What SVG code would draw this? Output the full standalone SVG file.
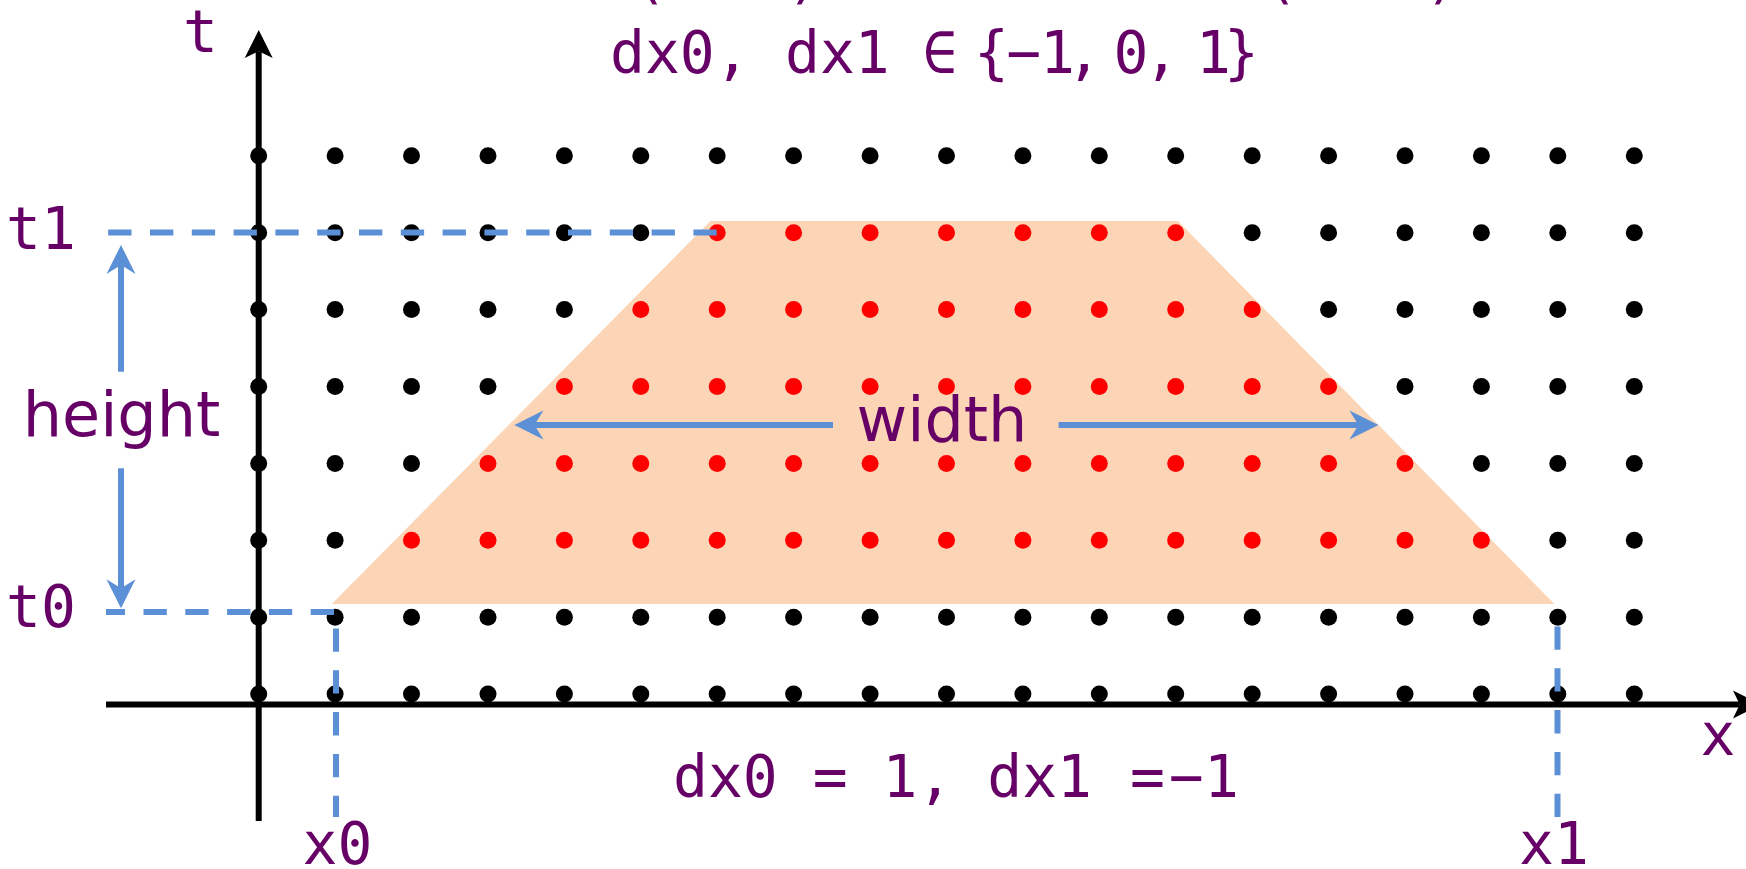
<svg xmlns="http://www.w3.org/2000/svg" width="1746" height="869" viewBox="0 0 1746 869">
<style>
.lbl{font-family:"DejaVu Sans Mono","Liberation Mono",monospace;font-size:58px;fill:#660066}
.word{font-family:"DejaVu Sans","Liberation Sans",sans-serif;font-size:62px;fill:#660066}
.k{fill:#000}
.r{fill:#ff0000}
.axis{stroke:#000;stroke-width:6;fill:none}
.dash{stroke:#5b8fd6;stroke-width:6;fill:none;stroke-dasharray:23.3 18.5}
.barrow{stroke:#5b8fd6;stroke-width:6;fill:none;marker-end:url(#bhead)}
</style>
<defs>
<marker id="khead" markerUnits="userSpaceOnUse" markerWidth="30" markerHeight="30" viewBox="0 -15 29 30" refX="6.7" refY="0" orient="auto">
<path d="M0,-14 L28,0 L0,14 L6.7,0 Z" fill="#000"/>
</marker>
<marker id="bhead" markerUnits="userSpaceOnUse" markerWidth="31" markerHeight="31" viewBox="0 -15.5 30 31" refX="9" refY="0" orient="auto">
<path d="M0,-14.5 L29,0 L0,14.5 L9,0 Z" fill="#5b8fd6"/>
</marker>
</defs>
<rect width="1746" height="869" fill="#fff"/>
<g id="region">
<polygon points="710.4,221 1178,221 1554.4,604 331.8,604" fill="#fbd5b5"/>
</g>
<g id="axes">
<line class="axis" x1="258.7" y1="821" x2="258.7" y2="51.3" marker-end="url(#khead)"/>
<line class="axis" x1="106" y1="704.5" x2="1739.7" y2="704.5" marker-end="url(#khead)"/>
</g>
<g id="dots">
<g class="k">
<circle cx="258.7" cy="155.8" r="8.5"/><circle cx="335.1" cy="155.8" r="8.5"/><circle cx="411.5" cy="155.8" r="8.5"/><circle cx="488" cy="155.8" r="8.5"/><circle cx="564.4" cy="155.8" r="8.5"/><circle cx="640.8" cy="155.8" r="8.5"/><circle cx="717.2" cy="155.8" r="8.5"/><circle cx="793.6" cy="155.8" r="8.5"/><circle cx="870.1" cy="155.8" r="8.5"/><circle cx="946.5" cy="155.8" r="8.5"/><circle cx="1022.9" cy="155.8" r="8.5"/><circle cx="1099.3" cy="155.8" r="8.5"/><circle cx="1175.7" cy="155.8" r="8.5"/><circle cx="1252.2" cy="155.8" r="8.5"/><circle cx="1328.6" cy="155.8" r="8.5"/><circle cx="1405" cy="155.8" r="8.5"/><circle cx="1481.4" cy="155.8" r="8.5"/><circle cx="1557.8" cy="155.8" r="8.5"/><circle cx="1634.3" cy="155.8" r="8.5"/>
<circle cx="258.7" cy="232.7" r="8.5"/><circle cx="335.1" cy="232.7" r="8.5"/><circle cx="411.5" cy="232.7" r="8.5"/><circle cx="488" cy="232.7" r="8.5"/><circle cx="564.4" cy="232.7" r="8.5"/><circle cx="640.8" cy="232.7" r="8.5"/><circle cx="1252.2" cy="232.7" r="8.5"/><circle cx="1328.6" cy="232.7" r="8.5"/><circle cx="1405" cy="232.7" r="8.5"/><circle cx="1481.4" cy="232.7" r="8.5"/><circle cx="1557.8" cy="232.7" r="8.5"/><circle cx="1634.3" cy="232.7" r="8.5"/>
<circle cx="258.7" cy="309.6" r="8.5"/><circle cx="335.1" cy="309.6" r="8.5"/><circle cx="411.5" cy="309.6" r="8.5"/><circle cx="488" cy="309.6" r="8.5"/><circle cx="564.4" cy="309.6" r="8.5"/><circle cx="1328.6" cy="309.6" r="8.5"/><circle cx="1405" cy="309.6" r="8.5"/><circle cx="1481.4" cy="309.6" r="8.5"/><circle cx="1557.8" cy="309.6" r="8.5"/><circle cx="1634.3" cy="309.6" r="8.5"/>
<circle cx="258.7" cy="386.5" r="8.5"/><circle cx="335.1" cy="386.5" r="8.5"/><circle cx="411.5" cy="386.5" r="8.5"/><circle cx="488" cy="386.5" r="8.5"/><circle cx="1405" cy="386.5" r="8.5"/><circle cx="1481.4" cy="386.5" r="8.5"/><circle cx="1557.8" cy="386.5" r="8.5"/><circle cx="1634.3" cy="386.5" r="8.5"/>
<circle cx="258.7" cy="463.4" r="8.5"/><circle cx="335.1" cy="463.4" r="8.5"/><circle cx="411.5" cy="463.4" r="8.5"/><circle cx="1481.4" cy="463.4" r="8.5"/><circle cx="1557.8" cy="463.4" r="8.5"/><circle cx="1634.3" cy="463.4" r="8.5"/>
<circle cx="258.7" cy="540.3" r="8.5"/><circle cx="335.1" cy="540.3" r="8.5"/><circle cx="1557.8" cy="540.3" r="8.5"/><circle cx="1634.3" cy="540.3" r="8.5"/>
<circle cx="258.7" cy="617.2" r="8.5"/><circle cx="335.1" cy="617.2" r="8.5"/><circle cx="411.5" cy="617.2" r="8.5"/><circle cx="488" cy="617.2" r="8.5"/><circle cx="564.4" cy="617.2" r="8.5"/><circle cx="640.8" cy="617.2" r="8.5"/><circle cx="717.2" cy="617.2" r="8.5"/><circle cx="793.6" cy="617.2" r="8.5"/><circle cx="870.1" cy="617.2" r="8.5"/><circle cx="946.5" cy="617.2" r="8.5"/><circle cx="1022.9" cy="617.2" r="8.5"/><circle cx="1099.3" cy="617.2" r="8.5"/><circle cx="1175.7" cy="617.2" r="8.5"/><circle cx="1252.2" cy="617.2" r="8.5"/><circle cx="1328.6" cy="617.2" r="8.5"/><circle cx="1405" cy="617.2" r="8.5"/><circle cx="1481.4" cy="617.2" r="8.5"/><circle cx="1557.8" cy="617.2" r="8.5"/><circle cx="1634.3" cy="617.2" r="8.5"/>
<circle cx="258.7" cy="694.1" r="8.5"/><circle cx="335.1" cy="694.1" r="8.5"/><circle cx="411.5" cy="694.1" r="8.5"/><circle cx="488" cy="694.1" r="8.5"/><circle cx="564.4" cy="694.1" r="8.5"/><circle cx="640.8" cy="694.1" r="8.5"/><circle cx="717.2" cy="694.1" r="8.5"/><circle cx="793.6" cy="694.1" r="8.5"/><circle cx="870.1" cy="694.1" r="8.5"/><circle cx="946.5" cy="694.1" r="8.5"/><circle cx="1022.9" cy="694.1" r="8.5"/><circle cx="1099.3" cy="694.1" r="8.5"/><circle cx="1175.7" cy="694.1" r="8.5"/><circle cx="1252.2" cy="694.1" r="8.5"/><circle cx="1328.6" cy="694.1" r="8.5"/><circle cx="1405" cy="694.1" r="8.5"/><circle cx="1481.4" cy="694.1" r="8.5"/><circle cx="1557.8" cy="694.1" r="8.5"/><circle cx="1634.3" cy="694.1" r="8.5"/>
</g>
<g class="r">
<circle cx="717.2" cy="232.7" r="8.5"/><circle cx="793.6" cy="232.7" r="8.5"/><circle cx="870.1" cy="232.7" r="8.5"/><circle cx="946.5" cy="232.7" r="8.5"/><circle cx="1022.9" cy="232.7" r="8.5"/><circle cx="1099.3" cy="232.7" r="8.5"/><circle cx="1175.7" cy="232.7" r="8.5"/>
<circle cx="640.8" cy="309.6" r="8.5"/><circle cx="717.2" cy="309.6" r="8.5"/><circle cx="793.6" cy="309.6" r="8.5"/><circle cx="870.1" cy="309.6" r="8.5"/><circle cx="946.5" cy="309.6" r="8.5"/><circle cx="1022.9" cy="309.6" r="8.5"/><circle cx="1099.3" cy="309.6" r="8.5"/><circle cx="1175.7" cy="309.6" r="8.5"/><circle cx="1252.2" cy="309.6" r="8.5"/>
<circle cx="564.4" cy="386.5" r="8.5"/><circle cx="640.8" cy="386.5" r="8.5"/><circle cx="717.2" cy="386.5" r="8.5"/><circle cx="793.6" cy="386.5" r="8.5"/><circle cx="870.1" cy="386.5" r="8.5"/><circle cx="946.5" cy="386.5" r="8.5"/><circle cx="1022.9" cy="386.5" r="8.5"/><circle cx="1099.3" cy="386.5" r="8.5"/><circle cx="1175.7" cy="386.5" r="8.5"/><circle cx="1252.2" cy="386.5" r="8.5"/><circle cx="1328.6" cy="386.5" r="8.5"/>
<circle cx="488" cy="463.4" r="8.5"/><circle cx="564.4" cy="463.4" r="8.5"/><circle cx="640.8" cy="463.4" r="8.5"/><circle cx="717.2" cy="463.4" r="8.5"/><circle cx="793.6" cy="463.4" r="8.5"/><circle cx="870.1" cy="463.4" r="8.5"/><circle cx="946.5" cy="463.4" r="8.5"/><circle cx="1022.9" cy="463.4" r="8.5"/><circle cx="1099.3" cy="463.4" r="8.5"/><circle cx="1175.7" cy="463.4" r="8.5"/><circle cx="1252.2" cy="463.4" r="8.5"/><circle cx="1328.6" cy="463.4" r="8.5"/><circle cx="1405" cy="463.4" r="8.5"/>
<circle cx="411.5" cy="540.3" r="8.5"/><circle cx="488" cy="540.3" r="8.5"/><circle cx="564.4" cy="540.3" r="8.5"/><circle cx="640.8" cy="540.3" r="8.5"/><circle cx="717.2" cy="540.3" r="8.5"/><circle cx="793.6" cy="540.3" r="8.5"/><circle cx="870.1" cy="540.3" r="8.5"/><circle cx="946.5" cy="540.3" r="8.5"/><circle cx="1022.9" cy="540.3" r="8.5"/><circle cx="1099.3" cy="540.3" r="8.5"/><circle cx="1175.7" cy="540.3" r="8.5"/><circle cx="1252.2" cy="540.3" r="8.5"/><circle cx="1328.6" cy="540.3" r="8.5"/><circle cx="1405" cy="540.3" r="8.5"/><circle cx="1481.4" cy="540.3" r="8.5"/>
</g>
</g>
<g id="connectors">
<path class="dash" d="M716.7,232.5 H106"/>
<path class="dash" d="M106,612 H336 V817" stroke-dashoffset="4.3"/>
<path class="dash" d="M1557.5,817 V626"/>
<line class="barrow" x1="121" y1="371.7" x2="121" y2="265"/>
<line class="barrow" x1="121" y1="468.3" x2="121" y2="588.3"/>
<line class="barrow" x1="833" y1="425" x2="534.4" y2="425"/>
<line class="barrow" x1="1058.6" y1="425" x2="1358.4" y2="425"/>
</g>
<g id="labels">
<text class="lbl" x="632 787 1263 1425" y="-3">()()</text>
<text class="lbl" x="610" y="73">dx0,</text>
<text class="lbl" x="785" y="73">dx1</text>
<text class="lbl" x="922.5" y="73">∈</text>
<text class="lbl" x="974 1006.5 1040 1066.5 1090 1113.5 1144 1170 1196 1224" y="73">{−1, 0, 1}</text>
<text class="lbl" x="183" y="52">t</text>
<text class="lbl" x="6" y="249">t1</text>
<text class="lbl" x="6" y="627">t0</text>
<text class="lbl" x="302.5" y="864">x0</text>
<text class="lbl" x="1519" y="864">x1</text>
<text class="lbl" x="1700.5" y="755">x</text>
<text class="lbl" x="673" y="797">dx0 = 1, dx1</text>
<text class="lbl" x="1130 1169 1204" y="797">=−1</text>
<text class="word" x="22.7" y="436">height</text>
<text class="word" x="856.5" y="441">width</text>
</g>
</svg>
